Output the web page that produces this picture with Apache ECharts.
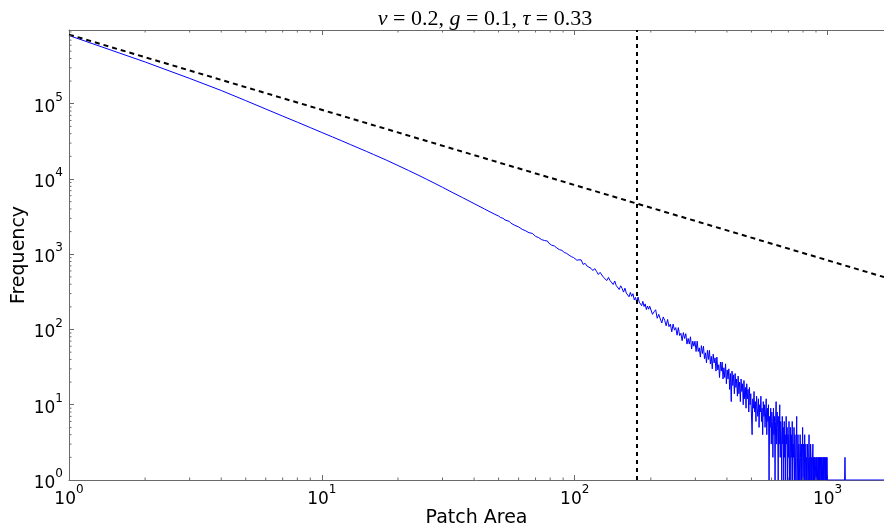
<!DOCTYPE html>
<html><head><meta charset="utf-8">
<script src="https://cdn.jsdelivr.net/npm/echarts@6/dist/echarts.min.js"></script>
<style>html,body{margin:0;padding:0;background:#fff}#c{width:884px;height:525px}</style>
</head><body><div id="c"></div>
<script>
// ---- data ----
const headAreas = [1,2,3,4,5,6,7,8,9,10,11,12,13,14,15,16,18,20,22,24,26,28,30,33,36,40,44,48];
const headCounts = [807000,359000,217000,150000,110000,85100,68500,56900,48200,41500,36300,32100,28600,25700,23300,21200,17800,15100,13000,11300,9890,8730,7760,6560,5660,4710,3990,3430];

const tail1Start = 50, tail1Step = 1;
const tail1Counts = [3216,3065,3016,2856,2798,2749,2579,2555,2419,2418, 2308,2297,2141,2144,2047,2054,1930,1861,1894,1820, 1727,1767,1665,1662,1563,1595,1522,1451,1499,1403, 1404,1319,1359,1290,1309,1212,1222,1151,1193,1126, 1134,1055,1078,1026,1053,973,993,929,965,903];

const tail2Start = 100, tail2Step = 2;
const tail2Counts = [929,833,843,843,733,757,694,730,650,606, 645,593,538,574,570,493,507,447,493,446, 452,396,441,383,393,340,381,351,314,354, 305,321,272,311,276,299,247,267,227,270, 231,244,207,237,202,219,184,205,186,204];

const tail3Start = 200, tail3Step = 3;
const tail3Counts = [197,159,172,183,141,159,138,122,147,132, 112,136,109,118,93,118,98,106,84,106, 83,89,71,91,76,88,64,76,64,80, 55,70,60,70,51,70,51,57,43,61, 48,60,41,49,36,53,40,53,35,44, 30,47,36,42,28,43,29,34,23,37, 28,37,22,31,23,35,19,29,22,30, 16,26,11,28,18,25,14,26,17,22, 13,24,14,20,11,22,15,19,10,21, 12,17,9,19,12,16,8,17,10,14];

const tail4Start = 500, tail4Step = 3;
const tail4Counts = [14,4,12,9,15,8,11,6,13,9, 7,12,5,10,8,13,6,9,4,11, 7,10,5,8,12,4,9,6,10,1, 7,5,9,3,8,6,2,9,4,7,
  1,6,11,3,8,5,1,7,3,10, 2,6,4,1,7,3,5,1,6,2, 4,1,7,3,5,1,4,2,6,1, 3,5,1,4,2,6,1,3,2,5,
  1,4,2,1,3,7,1,2,4,1, 3,2,1,4,2,1,3,1,2,5, 1,3,2,1,4,1,2,3,1,2, 1,3,2,1,2,4,1,2,1,3,
  2,1,2,1,2,3,1,2,1,2, 1,2,2,1,2,1,2,1,1,2, 1,2,1,2,1,1,2,1,2,1, 2,1,1,2,1,2,1,1,2,1, 2,1,1,2,1,2,1];

const tail5Areas = [1001,1168,1172,1176,1672];
const tail5Counts = [1,1,2,1,1];

const fitLine = [[1, 830000], [1672, 497]];   // dashed reference power law
const thresholdArea = 176;                       // vertical dashed line

const xMin = 1, xMax = 1672, yMin = 1, yMax = 955000;
const xMinorTicks = [2,3,4,5,6,7,8,9,20,30,40,50,60,70,80,90,200,300,400,500,600,700,800,900];
const yMinorTicks = [2,3,4,5,6,7,8,9,20,30,40,50,60,70,80,90,200,300,400,500,600,700,800,900,
  2000,3000,4000,5000,6000,7000,8000,9000,20000,30000,40000,50000,60000,70000,80000,90000,
  200000,300000,400000,500000,600000,700000,800000,900000];

// ---- build series data ----
const blue = [];
headAreas.forEach((a, i) => blue.push([a, headCounts[i]]));
[[tail1Start, tail1Step, tail1Counts],[tail2Start, tail2Step, tail2Counts],
 [tail3Start, tail3Step, tail3Counts],[tail4Start, tail4Step, tail4Counts]].forEach(([s, st, arr]) => {
  arr.forEach((c, i) => blue.push([s + st * i, c]));
});
tail5Areas.forEach((a, i) => blue.push([a, tail5Counts[i]]));

const axisGray = '#6a6a6a';
const labelFmt = v => '{b|10}{s|' + Math.round(Math.log10(v)) + '}';
const rich = {
  b: {fontSize: 17, fontFamily: 'DejaVu Sans', color: '#000', lineHeight: 24, verticalAlign: 'bottom'},
  s: {fontSize: 12, fontFamily: 'DejaVu Sans', color: '#000', lineHeight: 24, verticalAlign: 'top'}
};

const chart = echarts.init(document.getElementById('c'), null, {renderer: 'canvas'});
chart.setOption({
  animation: false,
  backgroundColor: '#fff',
  title: {
    text: '{i|v}{n| = 0.2, }{i|g}{n| = 0.1, }{i|τ}{n| = 0.33}',
    left: 480, top: 3, textAlign: 'center',
    textStyle: {
      fontWeight: 'normal',
      rich: {
        i: {fontFamily: 'Liberation Serif', fontStyle: 'italic', fontWeight: 'normal', fontSize: 22, color: '#000'},
        n: {fontFamily: 'Liberation Serif', fontWeight: 'normal', fontSize: 22, color: '#000'}
      }
    }
  },
  grid: {left: 69, right: 0, top: 30, bottom: 45, containLabel: false, outerBoundsMode: 'none'},
  xAxis: [{
    type: 'log', logBase: 10, min: xMin, max: xMax, position: 'bottom',
    name: 'Patch Area', nameLocation: 'middle', nameGap: 29, nameMoveOverlap: false,
    nameTextStyle: {fontFamily: 'DejaVu Sans', fontSize: 19, color: '#000'},
    axisLine: {show: true, lineStyle: {color: axisGray, width: 1}},
    axisTick: {show: true, inside: true, length: 5, lineStyle: {color: axisGray}},
    axisLabel: {formatter: labelFmt, rich: rich, margin: 4, showMaxLabel: false},
    splitLine: {show: false}
  }, {
    type: 'log', logBase: 10, min: xMin, max: xMax, position: 'top',
    axisLine: {show: true, lineStyle: {color: axisGray, width: 1}},
    axisTick: {show: true, inside: true, length: 5, lineStyle: {color: axisGray}},
    axisLabel: {show: false}, splitLine: {show: false}
  }],
  yAxis: [{
    type: 'log', logBase: 10, min: yMin, max: yMax,
    name: 'Frequency', nameLocation: 'middle', nameGap: 40, nameMoveOverlap: false,
    nameTextStyle: {fontFamily: 'DejaVu Sans', fontSize: 19, color: '#000'},
    axisLine: {show: true, lineStyle: {color: axisGray, width: 1}},
    axisTick: {show: true, inside: true, length: 5, lineStyle: {color: axisGray}},
    axisLabel: {formatter: labelFmt, rich: rich, margin: 6, showMaxLabel: false},
    splitLine: {show: false}
  }],
  series: [
    {
      type: 'line', data: blue, showSymbol: false, symbol: 'none',
      lineStyle: {color: '#0000ff', width: 1}, z: 2, silent: true
    },
    {
      type: 'line', data: fitLine, showSymbol: false, symbol: 'none',
      lineStyle: {color: '#000', width: 2, type: [5, 4]}, z: 3, silent: true,
      markLine: {
        symbol: 'none', silent: true, animation: false,
        label: {show: false},
        lineStyle: {color: '#000', width: 2, type: [4, 4]},
        data: [{xAxis: thresholdArea}]
      }
    },
    {
      type: 'custom', silent: true, z: 4,
      data: xMinorTicks.map(v => [v, 1]),
      renderItem: (params, api) => {
        const p = api.coord([api.value(0), 1]);
        const cs = params.coordSys;
        const st = {stroke: axisGray, lineWidth: 1};
        return {type: 'group', children: [
          {type: 'line', shape: {x1: p[0], y1: cs.y + cs.height, x2: p[0], y2: cs.y + cs.height - 2.5}, style: st},
          {type: 'line', shape: {x1: p[0], y1: cs.y, x2: p[0], y2: cs.y + 2.5}, style: st}
        ]};
      }
    },
    {
      type: 'custom', silent: true, z: 4,
      data: yMinorTicks.map(v => [1, v]),
      renderItem: (params, api) => {
        const p = api.coord([1, api.value(1)]);
        const cs = params.coordSys;
        return {type: 'line', shape: {x1: cs.x, y1: p[1], x2: cs.x + 2.5, y2: p[1]}, style: {stroke: axisGray, lineWidth: 1}};
      }
    }
  ]
});
</script>
</body></html>
